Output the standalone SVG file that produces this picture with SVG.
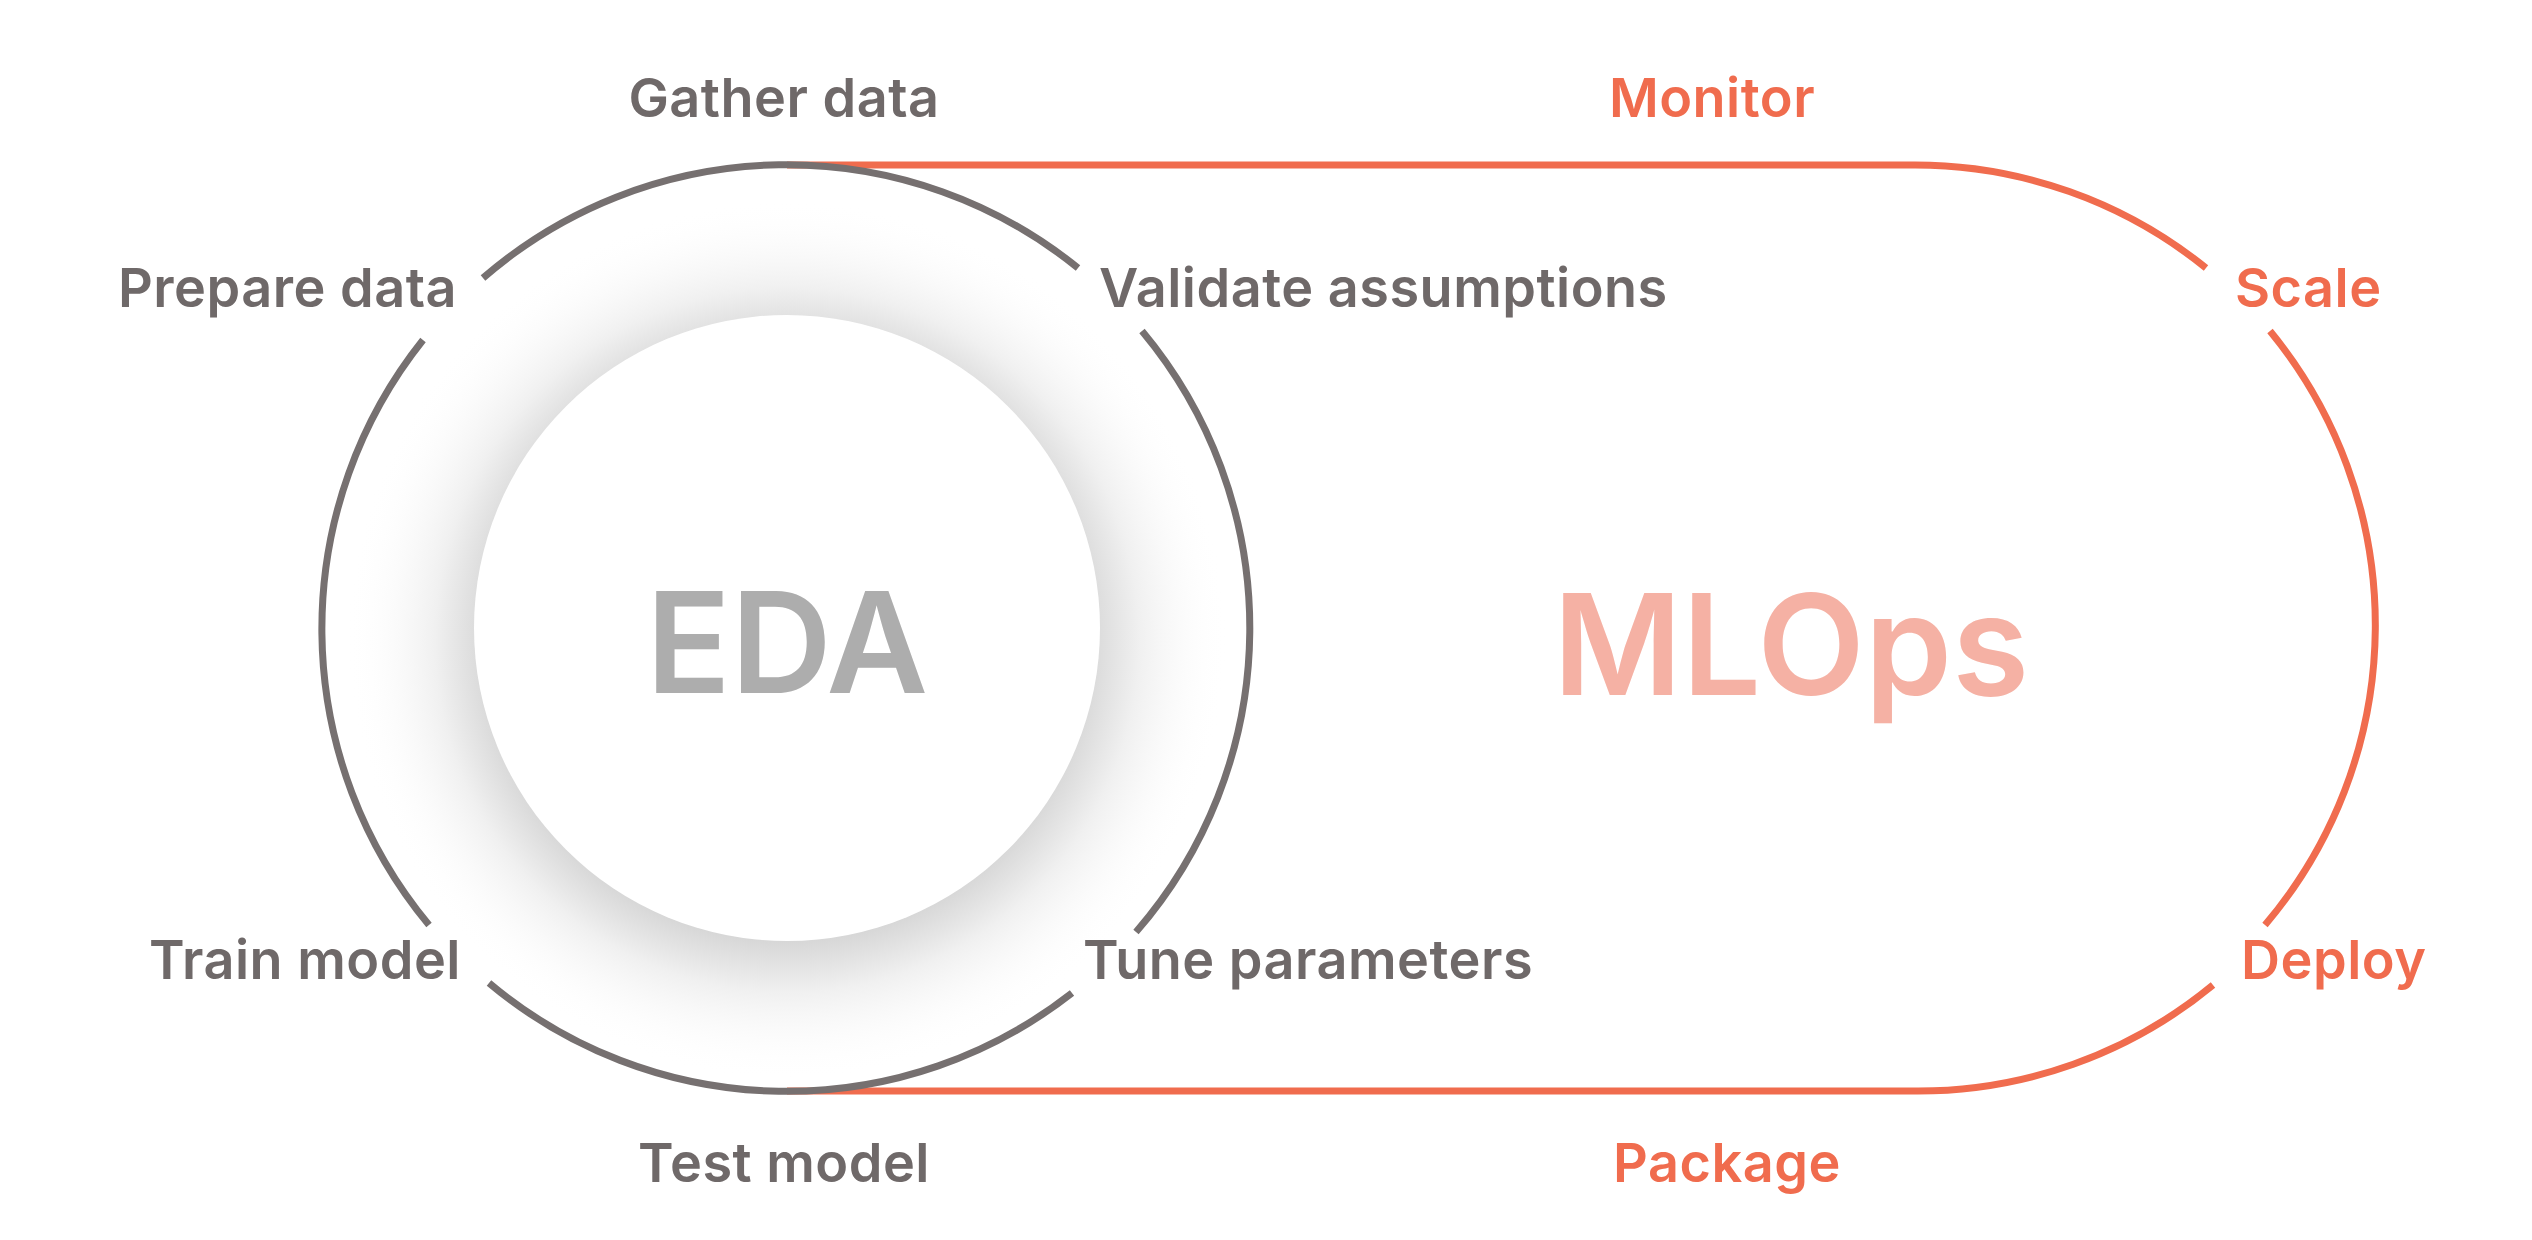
<svg xmlns="http://www.w3.org/2000/svg" width="2532" height="1240" viewBox="0 0 2532 1240">
<style>
.g{fill:none;stroke:#767070;stroke-width:7}
.o{fill:none;stroke:#F06C4E;stroke-width:7}
.lg{font-family:Inter,"Liberation Sans",sans-serif;font-weight:600;font-size:54px;letter-spacing:0.5px;fill:#6f6969}
.lo{font-family:Inter,"Liberation Sans",sans-serif;font-weight:600;font-size:54px;letter-spacing:0.5px;fill:#F06C4E}
.big{font-family:Inter,"Liberation Sans",sans-serif;font-weight:600;font-size:140px}
</style>
<defs>
<radialGradient id="sh" cx="787" cy="640" r="440" gradientUnits="userSpaceOnUse">
<stop offset="0.68" stop-color="#d6d6d6"/>
<stop offset="0.8" stop-color="#f0f0f0"/>
<stop offset="1" stop-color="#ffffff" stop-opacity="0"/>
</radialGradient>
</defs>
<rect width="2532" height="1240" fill="#fff"/>
<g id="shadow"><circle cx="787" cy="640" r="440" fill="url(#sh)"/><circle cx="787" cy="628" r="313" fill="#fff"/></g>
<g id="connectors">
<path class="o" d="M787 165 H1915 A463 463 0 0 1 2206 268"/>
<path class="o" d="M2270 331 A463 463 0 0 1 2265 925"/>
<path class="o" d="M2213 985 A463 463 0 0 1 1915 1091 H787"/>
<path class="g" d="M483 278 A463 463 0 0 1 1078 268"/>
<path class="g" d="M1142 331 A463 463 0 0 1 1136 932"/>
<path class="g" d="M1072 993 A463 463 0 0 1 489 983"/>
<path class="g" d="M429 925 A463 463 0 0 1 423 340"/>
</g>
<g id="eda"><text class="big" x="787" y="693" text-anchor="middle" fill="#ADADAD">EDA</text></g>
<g id="mlops"><text class="big" x="1791" y="695" text-anchor="middle" fill="#F5B1A4">MLOps</text></g>
<g id="gather"><text class="lg" x="784" y="117" text-anchor="middle">Gather data</text></g>
<g id="prepare"><text class="lg" x="457" y="307" text-anchor="end">Prepare data</text></g>
<g id="validate"><text class="lg" x="1099" y="307">Validate assumptions</text></g>
<g id="train"><text class="lg" x="461" y="979" text-anchor="end">Train model</text></g>
<g id="tune"><text class="lg" x="1083" y="979">Tune parameters</text></g>
<g id="test"><text class="lg" x="784" y="1182" text-anchor="middle">Test model</text></g>
<g id="monitor"><text class="lo" x="1712" y="117" text-anchor="middle">Monitor</text></g>
<g id="scale"><text class="lo" x="2235" y="307">Scale</text></g>
<g id="deploy"><text class="lo" x="2241" y="979">Deploy</text></g>
<g id="package"><text class="lo" x="1727" y="1182" text-anchor="middle">Package</text></g>
</svg>
